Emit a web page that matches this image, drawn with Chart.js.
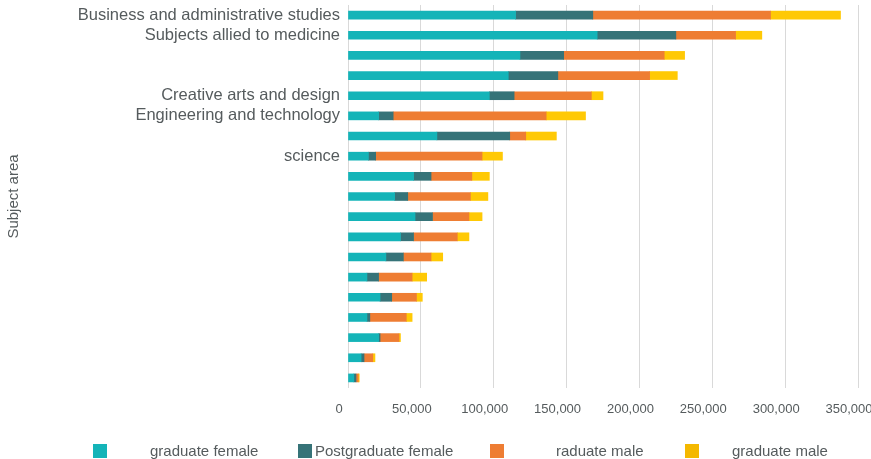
<!DOCTYPE html>
<html>
<head>
<meta charset="utf-8">
<script src="https://cdn.jsdelivr.net/npm/chart.js@4.4.1/dist/chart.umd.min.js"></script>
<style>
  html, body { margin: 0; padding: 0; background: #fff; }
  #wrap { position: relative; width: 871px; height: 459px; }
  #chart { position: absolute; left: 0; top: 0; }
  .lg-box { position: absolute; top: 444px; width: 14px; height: 14px; }
  .lg-text { position: absolute; top: 442px; font: 15px "Liberation Sans", Arial, sans-serif; color: #555b5d; line-height: 18px; white-space: nowrap; }
</style>
</head>
<body>
<div id="wrap">
  <canvas id="chart" width="871" height="459"></canvas>
</div>
<script>
// 과목 영역 (빈 칸은 원본에서 라벨이 안 보이는 행)
const subjects = [
  'Business and administrative studies',
  'Subjects allied to medicine',
  '',
  '',
  'Creative arts and design',
  'Engineering and technology',
  '',
  'science',
  '', '', '', '', '', '', '', '', '', '', '',
];

// 시리즈 값 (학생 수)
const ugFemale = [115000, 171000, 118000, 110000, 97000, 21000, 61000, 14000, 45000, 32000, 46000, 36000, 26000, 13000, 22000, 13000, 21000, 9000, 4000];
const pgFemale = [53000, 54000, 30000, 34000, 17000, 10000, 50000, 5000, 12000, 9000, 12000, 9000, 12000, 8000, 8000, 2000, 1000, 2000, 1500];
const ugMale = [122000, 41000, 69000, 63000, 53000, 105000, 11000, 73000, 28000, 43000, 25000, 30000, 19000, 23000, 17000, 25000, 13000, 6000, 1500];
const pgMale = [48000, 18000, 14000, 19000, 8000, 27000, 21000, 14000, 12000, 12000, 9000, 8000, 8000, 10000, 4000, 4000, 1000, 1500, 700];

const xTicks = [0, 50000, 100000, 150000, 200000, 250000, 300000, 350000];
const legendLabels = ['graduate female', 'Postgraduate female', 'raduate male', 'graduate male'];

const colors = ['#14b4b8', '#367378', '#ee7d33', '#ffc905'];
const legendBoxColors = ['#14b4b8', '#367378', '#ee7d33', '#f4b800'];
// 범례 위치 (원본 그림 기준 px)
const legendLayout = [[93, 150], [298, 315], [490, 556], [685, 732]];

const textColor = '#555b5d';
const fontFamily = '"Liberation Sans", Arial, sans-serif';

const series = [ugFemale, pgFemale, ugMale, pgMale];

new Chart(document.getElementById('chart'), {
  type: 'bar',
  data: {
    labels: subjects,
    datasets: series.map((values, i) => ({
      label: legendLabels[i],
      data: values,
      backgroundColor: colors[i],
      borderWidth: 0,
      barThickness: 8,
    })),
  },
  options: {
    indexAxis: 'y',
    responsive: false,
    animation: false,
    layout: { padding: { top: 5, right: 13, bottom: 0, left: 0 } },
    plugins: {
      legend: { display: false },
      tooltip: { enabled: false },
    },
    scales: {
      x: {
        stacked: true,
        min: 0,
        max: 350000,
        afterBuildTicks: (scale) => { scale.ticks = xTicks.map(v => ({ value: v })); },
        afterFit: (scale) => {
          scale.paddingLeft = 0;
          scale.paddingRight = 0;
          scale.height = 71;
        },
        ticks: {
          color: textColor,
          font: { family: fontFamily, size: 13 },
          padding: 14,
          labelOffset: -9,
          maxRotation: 0,
          callback: (v) => Number(v).toLocaleString('en-US'),
        },
        grid: { color: '#d9d9d9', lineWidth: 1, drawTicks: false },
        border: { display: false },
      },
      y: {
        stacked: true,
        afterFit: (scale) => {
          scale.width = 348;
          scale.paddingTop = 0;
          scale.paddingBottom = 0;
        },
        ticks: {
          color: textColor,
          font: { family: fontFamily, size: 16.5 },
          padding: 8,
          autoSkip: false,
        },
        grid: { display: false, drawTicks: false },
        border: { display: false },
        title: {
          display: true,
          text: 'Subject area',
          color: textColor,
          font: { family: fontFamily, size: 15 },
          padding: { top: 5, bottom: 4 },
        },
      },
    },
  },
});

// HTML 범례
const wrap = document.getElementById('wrap');
legendLabels.forEach((text, i) => {
  const box = document.createElement('div');
  box.className = 'lg-box';
  box.style.left = legendLayout[i][0] + 'px';
  box.style.background = legendBoxColors[i];
  wrap.appendChild(box);

  const label = document.createElement('div');
  label.className = 'lg-text';
  label.style.left = legendLayout[i][1] + 'px';
  label.textContent = text;
  wrap.appendChild(label);
});
</script>
</body>
</html>
